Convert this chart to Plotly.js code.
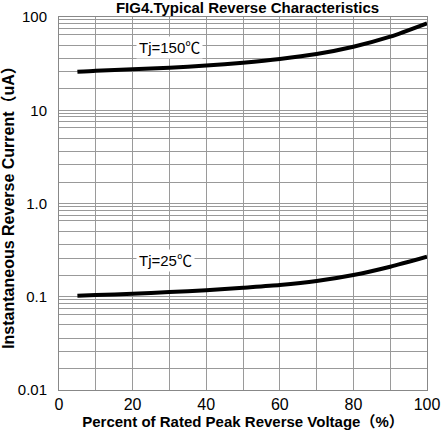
<!DOCTYPE html>
<html>
<head>
<meta charset="utf-8">
<script src="https://cdn.plot.ly/plotly-3.0.1.min.js"></script>
<style>html,body{margin:0;padding:0;background:#fff;}#chart{width:442px;height:431px;}</style>
</head>
<body>
<div id="chart"></div>
<script>
// Data
const voltagePct = [5, 10, 20, 30, 40, 50, 60, 70, 80, 90, 100];
const current150 = [25.9, 26.6, 27.5, 28.6, 30.1, 32.4, 35.5, 40.1, 48.0, 61.5, 85.6];
const current25 = [0.1025, 0.1043, 0.1077, 0.1123, 0.1171, 0.1249, 0.1335, 0.1473, 0.1708, 0.2097, 0.2684];

const yTickVals = [0.01, 0.1, 1, 10, 100];
const yTickText = ["0.01", "0.1", "1.0", "10", "100"];
const xTickVals = [0, 20, 40, 60, 80, 100];
const xTickText = ["0", "20", "40", "60", "80", "100"];
const decades = [0.01, 0.1, 1, 10];
const gridFactors = [1.7, 2.6, 3.6, 5, 6.5, 7.5, 8.5, 9.3];

const labelNames = ["Tj=150℃", "Tj=25℃"];
const labelX = [21, 21];
const labelY = [47.5, 0.244];

const titleText = "FIG4.Typical Reverse Characteristics";
const xTitle = "Percent of Rated Peak Reverse Voltage（%）";
const yTitle = "Instantaneous Reverse Current（uA）";

// y grid: decade lines carry labels, the in-between lines carry none
const yGridVals = [], yGridText = [];
yTickVals.forEach((v, i) => { yGridVals.push(v); yGridText.push(yTickText[i]); });
decades.forEach(d => gridFactors.forEach(f => { yGridVals.push(+(d * f).toPrecision(3)); yGridText.push(''); }));

const FONT = 'Arial, "Liberation Sans", "Noto Sans CJK SC", sans-serif';

const traces = [
  {x: voltagePct, y: current150, mode: 'lines', line: {color: '#000', width: 4, shape: 'spline', smoothing: 0.6}, hoverinfo: 'skip', showlegend: false},
  {x: voltagePct, y: current25, mode: 'lines', line: {color: '#000', width: 4, shape: 'spline', smoothing: 0.6}, hoverinfo: 'skip', showlegend: false}
];

const layout = {
  width: 442, height: 431,
  margin: {l: 59, r: 15, t: 17, b: 41, pad: 0},
  paper_bgcolor: '#fff', plot_bgcolor: '#fff',
  font: {family: FONT, color: '#000', size: 14},
  title: {text: '<b>' + titleText + '</b>', font: {size: 15, family: FONT, color: '#000'},
          x: 0.56, xanchor: 'center', yref: 'container', y: 0.981, yanchor: 'middle'},
  xaxis: {
    range: [0, 100], tickmode: 'array', tickvals: xTickVals, ticktext: xTickText,
    showgrid: true, gridcolor: '#9a9a9a', gridwidth: 1,
    minor: {dtick: 10, tick0: 0, showgrid: true, gridcolor: '#9a9a9a', gridwidth: 1},
    showline: true, linecolor: '#888', linewidth: 1, mirror: true,
    ticks: '', tickfont: {size: 16}, zeroline: false,
    title: {text: '<b>' + xTitle + '</b>', font: {size: 15}, standoff: 1}
  },
  yaxis: {
    type: 'log', range: [-2, 2], tickmode: 'array', tickvals: yGridVals, ticktext: yGridText,
    showgrid: true, gridcolor: '#999', gridwidth: 1,
    showline: true, linecolor: '#888', linewidth: 1, mirror: true,
    ticks: '', ticklabelstandoff: 8, tickfont: {size: 15}, zeroline: false,
    title: {text: '<b>' + yTitle + '</b>', font: {size: 16}, standoff: 3}
  },
  annotations: labelNames.map((t, i) => ({
    text: t, x: labelX[i], y: Math.log10(labelY[i]), xref: 'x', yref: 'y',
    xanchor: 'left', yanchor: 'middle', showarrow: false,
    bgcolor: '#fff', borderpad: 2, font: {size: 15, family: FONT, color: '#000'}
  }))
};

Plotly.newPlot('chart', traces, layout, {displayModeBar: false, staticPlot: true});
</script>
</body>
</html>
